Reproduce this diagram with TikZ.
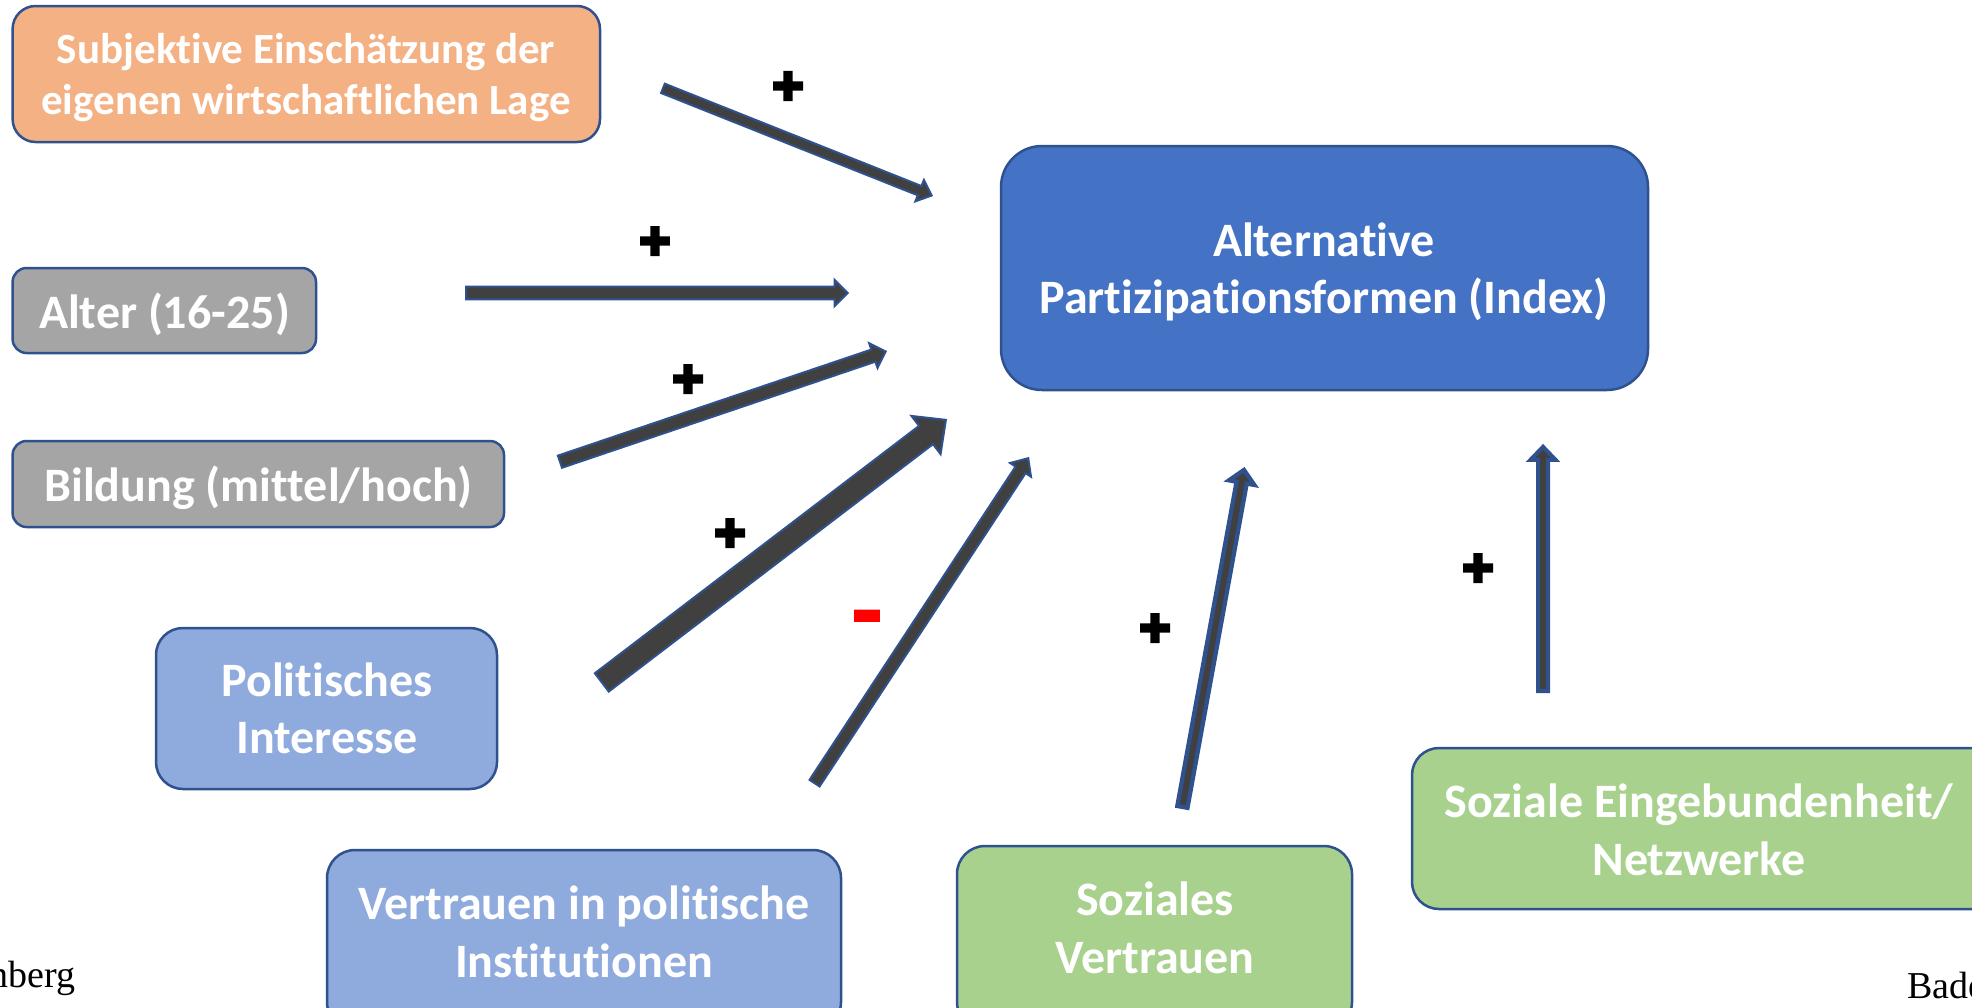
\documentclass[tikz,border=0pt]{standalone}
\usepackage{fontspec}
\setmainfont[Ligatures=NoCommon]{Carlito}
\newfontfamily\serifc{Liberation Serif}
\newfontfamily\symb[FakeBold=4]{DejaVu Sans}
\newfontfamily\symbm[FakeBold=2]{DejaVu Sans}
\usetikzlibrary{calc}
\definecolor{cOrange}{HTML}{F4B183}
\definecolor{cGray}{HTML}{A5A5A5}
\definecolor{cBlue}{HTML}{8FAADC}
\definecolor{cGreen}{HTML}{A9D18E}
\definecolor{cMain}{HTML}{4472C4}
\definecolor{cEdge}{HTML}{2F528F}
\definecolor{cArrow}{HTML}{404040}
\newcommand\fsz[2]{\fontsize{#1}{#2}\selectfont}
\tikzset{
  boxshape/.style={draw=cEdge,line width=2.5pt},
  boxtext/.style={inner sep=0pt,text=white,align=center,font=\bfseries\fsz{48}{57.5}},
  smalltext/.style={inner sep=0pt,text=white,align=center,font=\bfseries\fsz{43}{50.5}},
  plussign/.style={font=\symb\fsz{39}{39},text=black,inner sep=0pt},
  minussign/.style={font=\symbm\fsz{40}{40},text=red,inner sep=0pt},
  blockline/.style={draw=cEdge,fill=cArrow,line join=miter},
  cornertext/.style={font=\serifc\fsz{38}{38},text=black,inner sep=0pt}
}
% #1 start, #2 tip, #3 half shaft, #4 half head, #5 head length, #6 line width
\newcommand\blockarrow[6]{%
  \coordinate (st) at ($(#1)!#6*0.5pt!(#2)$);
  \coordinate (tp) at ($(#2)!#6*0.7pt!(#1)$);
  \coordinate (hb) at ($(tp)!#5pt!(#1)$);
  \draw[blockline,line width=#6pt] ($(st)!#3pt!90:(tp)$) -- ($(hb)!#3pt!-90:(st)$) -- ($(hb)!#4pt!-90:(st)$) -- (tp)
     -- ($(hb)!#4pt!90:(st)$) -- ($(hb)!#3pt!90:(st)$) -- ($(st)!#3pt!-90:(tp)$) -- cycle;
}
% x1,y1,x2,y2, colour, radius
\newcommand\cbox[6]{%
  \path[boxshape,fill=#5,rounded corners=#6pt] (#1,#2) rectangle (#3,#4);
}
\begin{document}
\begin{tikzpicture}[x=1pt,y=-1pt]
\useasboundingbox (0,0) rectangle (1972,1007);
\clip (0,0) rectangle (1972,1007);
\fill[white] (0,0) rectangle (1972,1007);

\cbox{12.6}{6}{600}{142}{cOrange}{23}
\node[smalltext] (subj) at (306,77.5) {Subjektive Einschätzung der\\eigenen wirtschaftlichen Lage};
\cbox{12.6}{268}{316}{353}{cGray}{14}
\node[boxtext] (alter) at (164.5,314) {Alter (16-25)};
\cbox{12.6}{441}{504}{527}{cGray}{14}
\node[boxtext] (bild) at (258.5,488) {Bildung (mittel/hoch)};
\cbox{156}{628}{497}{789}{cBlue}{27}
\node[boxtext] (pol) at (327,708.5) {Politisches\\Interesse};
\cbox{327}{850}{841}{1030}{cBlue}{28}
\node[boxtext] (vert) at (584,932) {Vertrauen in politische\\Institutionen};
\cbox{957}{846}{1352}{1030}{cGreen}{28}
\node[boxtext] (sozv) at (1155,928) {Soziales\\Vertrauen};
\cbox{1412}{748}{2000}{909}{cGreen}{27}
\node[boxtext] (sozn) at (1699,830) {Soziale Eingebundenheit/\\Netzwerke};
\cbox{1001}{146}{1648}{390}{cMain}{41}
\node[boxtext] (main) at (1324,272) {Alternative\\Partizipationsformen (Index)};

\coordinate (a1s) at (662,88);   \coordinate (a1e) at (933,196);
\coordinate (a2s) at (465,293);  \coordinate (a2e) at (849,293);
\coordinate (a3s) at (559,462);  \coordinate (a3e) at (887,351);
\coordinate (a4s) at (601,683);  \coordinate (a4e) at (947,419);
\coordinate (a5s) at (814,784);  \coordinate (a5e) at (1029,457);
\coordinate (a6s) at (1182,809); \coordinate (a6e) at (1244.5,467);
\coordinate (a7s) at (1543,693); \coordinate (a7e) at (1543,444);

\blockarrow{a1s}{a1e}{5}{11.5}{13}{2}
\blockarrow{a2s}{a2e}{6.4}{13}{13}{2}
\blockarrow{a3s}{a3e}{6.4}{13}{13}{2}
\blockarrow{a4s}{a4e}{11.5}{24}{25}{2}
\blockarrow{a5s}{a5e}{6}{12.5}{14}{2}
\blockarrow{a6s}{a6e}{5.2}{13}{13}{4.2}
\blockarrow{a7s}{a7e}{5}{12.5}{13}{4}

\node[plussign] (p1) at (788,86) {✚};
\node[plussign] (p2) at (655,241) {✚};
\node[plussign] (p3) at (688,379) {✚};
\node[plussign] (p4) at (730,533) {✚};
\node[minussign] (m5) at (867,632) {\scalebox{1}[3]{−}};
\node[plussign] (p6) at (1155,628) {✚};
\node[plussign] (p7) at (1478,568) {✚};

\node[cornertext,anchor=base east] (lft) at (76,987) {nberg};
\node[cornertext,anchor=base west] (rgt) at (1907,998) {Bade};
\end{tikzpicture}
\end{document}
